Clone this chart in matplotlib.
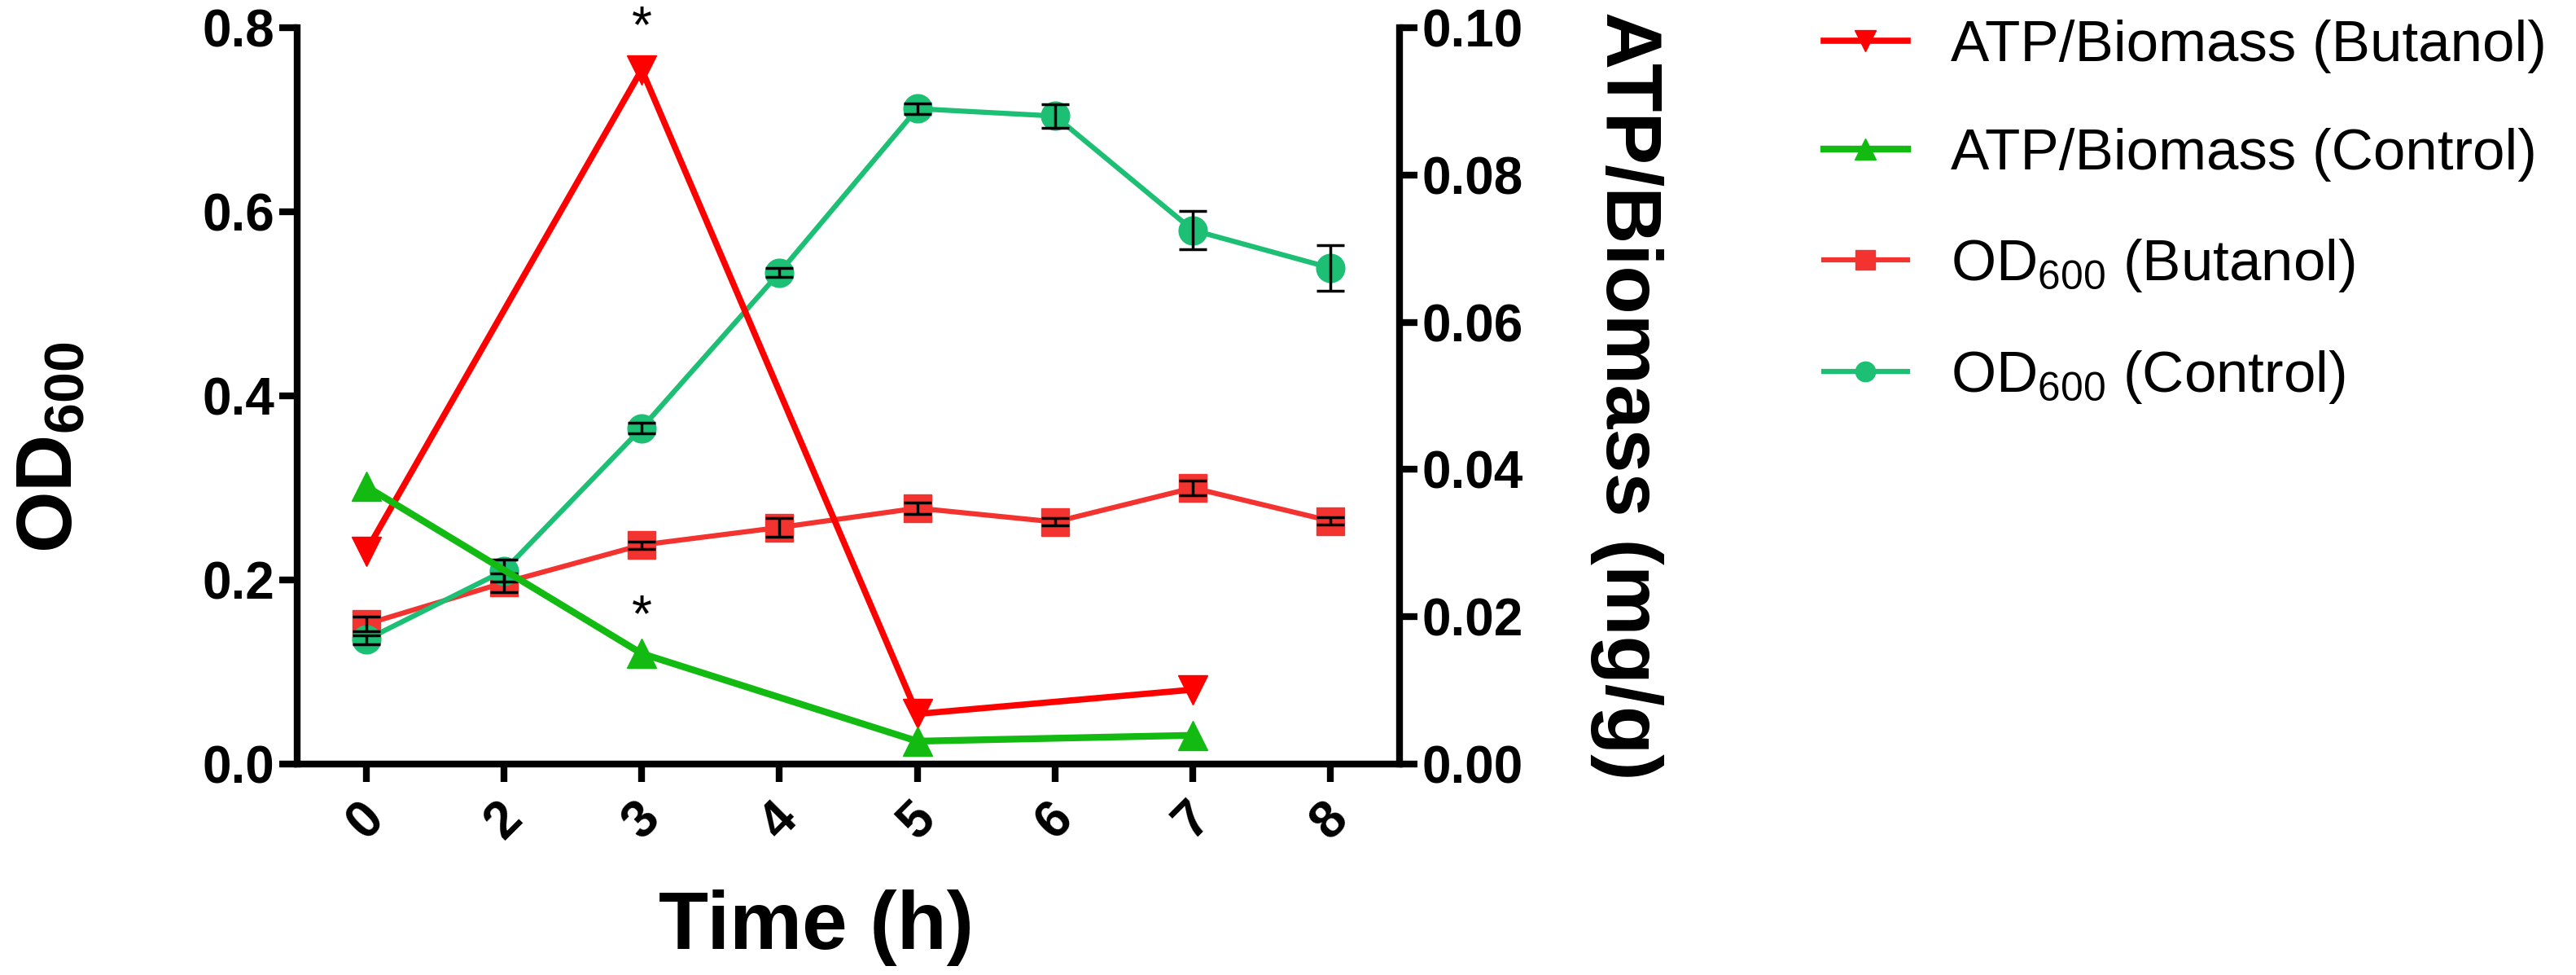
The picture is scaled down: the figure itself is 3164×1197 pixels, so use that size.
import numpy as np
import matplotlib.pyplot as plt

plt.rcParams['font.family'] = ['Liberation Sans', 'DejaVu Sans']
plt.rcParams['mathtext.default'] = 'regular'

# time points (h), shown as evenly spaced categories
time_labels = ['0', '2', '3', '4', '5', '6', '7', '8']

# OD600, left axis
od_butanol = [0.152, 0.197, 0.238, 0.257, 0.278, 0.263, 0.300, 0.264]
od_butanol_err = [0.008, 0.010, 0.004, 0.010, 0.006, 0.004, 0.008, 0.004]
od_control = [0.135, 0.210, 0.365, 0.534, 0.712, 0.704, 0.580, 0.539]
od_control_err = [0.005, 0.012, 0.006, 0.005, 0.006, 0.013, 0.021, 0.025]

# ATP/Biomass (mg/g), right axis, measured at 0, 3, 5, 7 h only
atp_labels = ['0', '3', '5', '7']
atp_butanol = [0.0289, 0.0943, 0.0068, 0.0101]
atp_control = [0.0377, 0.0150, 0.0031, 0.0039]

col_atp_but = '#FF0000'
col_atp_ctl = '#12BA12'
col_od_but = '#F2332F'
col_od_ctl = '#1CBF74'

x_od = np.arange(len(time_labels))
x_atp = np.array([time_labels.index(t) for t in atp_labels])

fig = plt.figure(figsize=(31.64, 11.97), dpi=100)
ax = fig.add_axes([0.1154, 0.2164, 0.4279, 0.7552])
ax2 = ax.twinx()

ebkw = dict(ecolor='black', elinewidth=2.5, capsize=12, capthick=2.5, zorder=4)

od_b, = ax.plot(x_od, od_butanol, color=col_od_but, lw=4.5, marker='s', ms=24, zorder=2)
ax.errorbar(x_od, od_butanol, yerr=od_butanol_err, fmt='none', **ebkw)
od_c, = ax.plot(x_od, od_control, color=col_od_ctl, lw=4.5, marker='o', ms=25, zorder=2)
ax.errorbar(x_od, od_control, yerr=od_control_err, fmt='none', **ebkw)

atp_b, = ax2.plot(x_atp, atp_butanol, color=col_atp_but, lw=5.5, marker='v', ms=26, zorder=3)
atp_c, = ax2.plot(x_atp, atp_control, color=col_atp_ctl, lw=6, marker='^', ms=26, zorder=3)

# significance stars at 3 h
star_i = atp_labels.index('3')
ax2.annotate('*', (x_atp[star_i], atp_butanol[star_i]), xytext=(0, 36), textcoords='offset points',
             ha='center', va='center', fontsize=46, annotation_clip=False)
ax2.annotate('*', (x_atp[star_i], atp_control[star_i]), xytext=(0, 32), textcoords='offset points',
             ha='center', va='center', fontsize=46, annotation_clip=False)

ax.set_xlim(-0.5, 7.5)
ax.set_ylim(0, 0.8)
ax2.set_ylim(0, 0.10)
ax.set_yticks([0.0, 0.2, 0.4, 0.6, 0.8])
ax.set_yticklabels(['0.0', '0.2', '0.4', '0.6', '0.8'])
ax2.set_yticks([0.0, 0.02, 0.04, 0.06, 0.08, 0.10])
ax2.set_yticklabels(['0.00', '0.02', '0.04', '0.06', '0.08', '0.10'])
ax.set_xticks(x_od)
ax.set_xticklabels(time_labels, rotation=45, ha='center')

for a in (ax, ax2):
    a.spines['top'].set_visible(False)
    for s in a.spines.values():
        s.set_linewidth(6)
    a.tick_params(width=6, length=16, labelsize=46, pad=4)
    for lab in a.get_xticklabels() + a.get_yticklabels():
        lab.set_fontweight('bold')
ax.spines['right'].set_visible(False)
ax2.spines['left'].set_visible(False)
ax2.spines['bottom'].set_visible(False)
ax.tick_params(axis='x', pad=10)

ax.set_xlabel('Time (h)', fontsize=72, fontweight='bold')
ax.xaxis.set_label_coords(0.471, -0.170)
ax.set_ylabel('OD$_{600}$', fontsize=70, fontweight='bold')
ax.yaxis.set_label_coords(-0.190, 0.43)
ax2.set_ylabel('ATP/Biomass (mg/g)', fontsize=70, fontweight='bold', rotation=270, labelpad=124)

handles = [atp_b, atp_c, od_b, od_c]
labels = ['ATP/Biomass (Butanol)', 'ATP/Biomass (Control)', 'OD$_{600}$ (Butanol)', 'OD$_{600}$ (Control)']
fig.legend(handles, labels, loc='upper left', bbox_to_anchor=(2240 / 3164, 1 - 24 / 1197),
           frameon=False, fontsize=51, markerscale=0.7, handlelength=1.45, handletextpad=0.75,
           labelspacing=0.95, borderpad=0, borderaxespad=0)

fig.savefig('out.png', dpi=100)
